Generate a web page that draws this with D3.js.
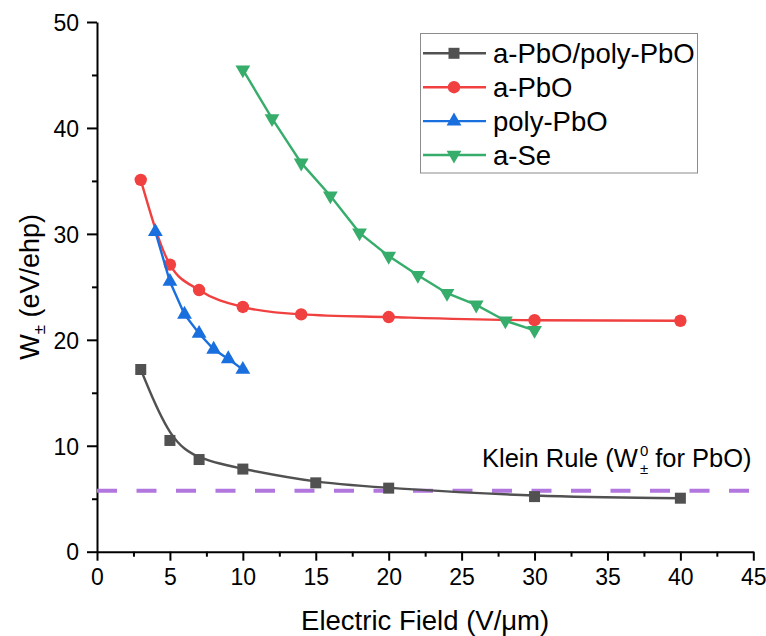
<!DOCTYPE html>
<html>
<head>
<meta charset="utf-8">
<script src="https://cdn.jsdelivr.net/npm/d3@7/dist/d3.min.js"></script>
<style>
  html, body { margin: 0; padding: 0; background: #fff; }
  svg { display: block; font-family: "Liberation Sans", Arial, sans-serif; }
</style>
</head>
<body>
<svg id="chart" width="766" height="636"></svg>
<script>
// Electric field (V/µm) for each sample
const fieldPbOMix = [3, 5, 7, 10, 15, 20, 30, 40];
const fieldAPbO   = [3, 5, 7, 10, 14, 20, 30, 40];
const fieldPolyPbO = [4, 5, 6, 7, 8, 9, 10];
const fieldASe    = [10, 12, 14, 16, 18, 20, 22, 24, 26, 28, 30];

// W± (eV/ehp) values
const wPbOMix   = [17.2, 10.5, 8.7, 7.8, 6.5, 6.0, 5.2, 5.05];
const wAPbO     = [35.1, 27.1, 24.7, 23.1, 22.4, 22.15, 21.85, 21.8];
const wPolyPbO  = [30.2, 25.5, 22.4, 20.6, 19.1, 18.2, 17.2];
const wASe      = [45.5, 40.9, 36.7, 33.6, 30.1, 27.9, 26.1, 24.4, 23.3, 21.8, 20.9];

// Klein rule level for PbO
const kleinW0 = 5.75;

const seriesNames = ["a-PbO/poly-PbO", "a-PbO", "poly-PbO", "a-Se"];
const seriesColors = ["#515151", "#F14040", "#1A6FDF", "#37AD6B"];
const xTicks = [0, 5, 10, 15, 20, 25, 30, 35, 40, 45];
const yTicks = [0, 10, 20, 30, 40, 50];

const svg = d3.select("#chart");
const plotL = 97, plotR = 753.3, plotT = 22, plotB = 551.7;

const x = d3.scaleLinear().domain([0, 45]).range([plotL, plotR]);
const y = d3.scaleLinear().domain([0, 50]).range([plotB, plotT]);

// Minor ticks (unlabelled) between the majors
const xMinor = d3.range(2.5, 45, 5);
const yMinor = d3.range(5, 50, 10);

svg.append("g")
  .attr("transform", `translate(0,${plotB})`)
  .call(d3.axisBottom(x).tickValues(xMinor).tickSize(5).tickFormat(""))
  .call(g => g.select(".domain").remove())
  .call(g => g.selectAll("line").attr("stroke", "#000").attr("stroke-width", 2));
svg.append("g")
  .attr("transform", `translate(${plotL},0)`)
  .call(d3.axisLeft(y).tickValues(yMinor).tickSize(5).tickFormat(""))
  .call(g => g.select(".domain").remove())
  .call(g => g.selectAll("line").attr("stroke", "#000").attr("stroke-width", 2));

const xAxis = svg.append("g")
  .attr("transform", `translate(0,${plotB})`)
  .call(d3.axisBottom(x).tickValues(xTicks).tickSize(9).tickSizeOuter(0).tickPadding(8));
const yAxis = svg.append("g")
  .attr("transform", `translate(${plotL},0)`)
  .call(d3.axisLeft(y).tickValues(yTicks).tickSize(10).tickSizeOuter(0).tickPadding(8));

[xAxis, yAxis].forEach(a => {
  a.select(".domain").attr("stroke", "#000").attr("stroke-width", 2);
  a.selectAll(".tick line").attr("stroke", "#000").attr("stroke-width", 2);
  a.selectAll(".tick text")
    .attr("fill", "#000")
    .style("font-size", "23px")
    .style("font-family", "'Liberation Sans', Arial, sans-serif");
});
yAxis.selectAll(".tick text").attr("dy", "0.36em");

// Axis titles
svg.append("text")
  .attr("x", (plotL + plotR) / 2).attr("y", 630)
  .attr("text-anchor", "middle")
  .style("font-size", "27.5px")
  .text("Electric Field (V/\u03BCm)");

const yTitle = svg.append("text")
  .attr("transform", `translate(39,${(plotT + plotB) / 2}) rotate(-90)`)
  .attr("text-anchor", "middle")
  .style("font-size", "27px");
yTitle.append("tspan").text("W");
yTitle.append("tspan").attr("dy", 6).style("font-size", "17px").text("\u00B1");
yTitle.append("tspan").attr("dy", -6).text(" (eV/ehp)");

// Klein rule reference line
svg.append("line")
  .attr("x1", plotL).attr("x2", plotR)
  .attr("y1", y(kleinW0)).attr("y2", y(kleinW0))
  .attr("stroke", "#B177DE")
  .attr("stroke-width", 4)
  .attr("stroke-dasharray", "20 19.5");

const klein = svg.append("text")
  .attr("x", 482).attr("y", 467)
  .style("font-size", "25.5px")
  .attr("fill", "#000");
klein.append("tspan").text("Klein Rule (W");
const sup = klein.append("tspan").attr("dx", 2).attr("dy", -11).style("font-size", "15px").text("0");
const supW = sup.node().getComputedTextLength();
klein.append("tspan").attr("dx", -supW).attr("dy", 18).style("font-size", "15px").text("\u00B1");
klein.append("tspan").attr("dy", -7).text(" for PbO)");

// Series
const series = [
  { name: seriesNames[0], xs: fieldPbOMix, ys: wPbOMix, color: seriesColors[0], curve: d3.curveBasis, marker: "square" },
  { name: seriesNames[1], xs: fieldAPbO, ys: wAPbO, color: seriesColors[1], curve: d3.curveMonotoneX, marker: "circle" },
  { name: seriesNames[2], xs: fieldPolyPbO, ys: wPolyPbO, color: seriesColors[2], curve: d3.curveLinear, marker: "up" },
  { name: seriesNames[3], xs: fieldASe, ys: wASe, color: seriesColors[3], curve: d3.curveLinear, marker: "down" }
];

const symbolFor = m => {
  if (m === "square") return d3.symbol().type(d3.symbolSquare).size(121);
  if (m === "circle") return d3.symbol().type(d3.symbolCircle).size(Math.PI * 6.2 * 6.2);
  return d3.symbol().type(d3.symbolTriangle).size(95);
};
const rotFor = m => (m === "down" ? 180 : 0);

series.forEach(s => {
  const pts = s.xs.map((v, i) => [v, s.ys[i]]);
  const line = d3.line().x(d => x(d[0])).y(d => y(d[1])).curve(s.curve);
  svg.append("path")
    .attr("d", line(pts))
    .attr("fill", "none")
    .attr("stroke", s.color)
    .attr("stroke-width", 2.4);
  svg.append("g").selectAll("path")
    .data(pts)
    .join("path")
    .attr("d", symbolFor(s.marker)())
    .attr("transform", d => `translate(${x(d[0])},${y(d[1])}) rotate(${rotFor(s.marker)})`)
    .attr("fill", s.color);
});

// Legend
const legend = svg.append("g");
legend.append("rect")
  .attr("x", 420.5).attr("y", 33.5)
  .attr("width", 277).attr("height", 139.5)
  .attr("fill", "#fff")
  .attr("stroke", "#8c8c8c")
  .attr("stroke-width", 1);

series.forEach((s, i) => {
  const cy = 53.3 + i * 33.9;
  legend.append("line")
    .attr("x1", 423).attr("x2", 486)
    .attr("y1", cy).attr("y2", cy)
    .attr("stroke", s.color).attr("stroke-width", 2.4);
  legend.append("path")
    .attr("d", symbolFor(s.marker)())
    .attr("transform", `translate(454,${cy}) rotate(${rotFor(s.marker)})`)
    .attr("fill", s.color);
  legend.append("text")
    .attr("x", 493).attr("y", cy).attr("dy", "0.35em")
    .style("font-size", "27.5px")
    .text(s.name);
});
</script>
</body>
</html>
